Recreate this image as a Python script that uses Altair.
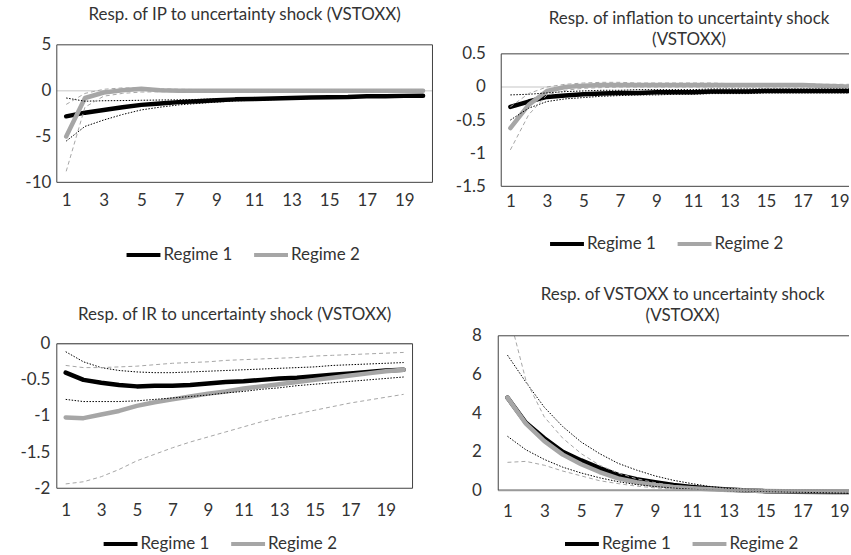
import altair as alt
import pandas as pd

FONT = "Lato"
FS = 17
TXT = "#333333"
BLACK = "#000000"
GRAY = "#a6a6a6"
FRAME = "#404040"
ZERO = "#d9d9d9"

horizon = list(range(1, 21))
x_ticks = list(range(1, 20, 2))
regimes = ["Regime 1", "Regime 2"]

# Industrial production
ip_r1 = [-2.8, -2.4, -2.1, -1.8, -1.55, -1.4, -1.25, -1.15, -1.05, -0.95,
         -0.9, -0.85, -0.8, -0.75, -0.72, -0.7, -0.62, -0.6, -0.57, -0.55]
ip_r1_hi = [-0.8, -1.15, -1.1, -1.08, -1.05, -1.02, -1.0, -0.95, -0.9, -0.85,
            -0.8, -0.76, -0.72, -0.68, -0.64, -0.6, -0.55, -0.52, -0.5, -0.48]
ip_r1_lo = [-5.5, -3.9, -3.2, -2.6, -2.1, -1.8, -1.55, -1.4, -1.25, -1.12,
            -1.05, -0.98, -0.92, -0.86, -0.82, -0.78, -0.72, -0.68, -0.65, -0.62]
ip_r2 = [-5.0, -0.8, -0.2, 0.05, 0.2, 0.05, 0.0, 0.0, 0.0, 0.0,
         0.0, 0.0, 0.0, 0.0, 0.0, 0.0, 0.0, 0.0, 0.0, 0.0]
ip_r2_hi = [-1.5, -0.3, 0.15, 0.3, 0.3, 0.2, 0.15, 0.12, 0.1, 0.1,
            0.1, 0.1, 0.1, 0.1, 0.1, 0.1, 0.1, 0.1, 0.1, 0.1]
ip_r2_lo = [-8.8, -1.8, -0.6, -0.3, -0.15, -0.12, -0.1, -0.1, -0.1, -0.1,
            -0.1, -0.1, -0.1, -0.1, -0.1, -0.1, -0.1, -0.1, -0.1, -0.1]

# Inflation
inf_r1 = [-0.30, -0.22, -0.15, -0.13, -0.11, -0.10, -0.09, -0.09, -0.08, -0.08,
          -0.08, -0.07, -0.07, -0.07, -0.06, -0.06, -0.06, -0.06, -0.06, -0.06]
inf_r1_hi = [-0.12, -0.11, -0.09, -0.07, -0.06, -0.05, -0.05, -0.04, -0.04, -0.04,
             -0.04, -0.03, -0.03, -0.03, -0.03, -0.03, -0.03, -0.03, -0.03, -0.03]
inf_r1_lo = [-0.5, -0.32, -0.22, -0.18, -0.16, -0.14, -0.13, -0.12, -0.12, -0.11,
             -0.11, -0.1, -0.1, -0.1, -0.09, -0.09, -0.09, -0.09, -0.09, -0.09]
inf_r2 = [-0.62, -0.27, -0.06, 0.0, 0.02, 0.03, 0.03, 0.03, 0.03, 0.03,
          0.03, 0.03, 0.03, 0.03, 0.03, 0.03, 0.03, 0.02, 0.01, 0.0]
inf_r2_hi = [-0.3, -0.1, 0.0, 0.04, 0.06, 0.07, 0.07, 0.06, 0.06, 0.06,
             0.06, 0.06, 0.05, 0.05, 0.05, 0.05, 0.05, 0.04, 0.04, 0.04]
inf_r2_lo = [-0.95, -0.42, -0.12, -0.05, -0.02, -0.01, 0.0, 0.0, 0.0, 0.0,
             0.0, 0.0, 0.0, 0.0, 0.0, 0.0, 0.0, 0.0, 0.0, 0.0]

# Interest rate
ir_r1 = [-0.40, -0.50, -0.54, -0.57, -0.59, -0.58, -0.58, -0.57, -0.55, -0.53,
         -0.52, -0.50, -0.48, -0.47, -0.45, -0.43, -0.41, -0.39, -0.37, -0.36]
ir_r1_hi = [-0.11, -0.25, -0.33, -0.37, -0.39, -0.40, -0.40, -0.39, -0.38, -0.37,
            -0.36, -0.35, -0.34, -0.33, -0.32, -0.30, -0.29, -0.28, -0.27, -0.26]
ir_r1_lo = [-0.77, -0.80, -0.80, -0.80, -0.79, -0.77, -0.75, -0.73, -0.71, -0.68,
            -0.66, -0.63, -0.61, -0.58, -0.56, -0.54, -0.52, -0.50, -0.48, -0.46]
ir_r2 = [-1.02, -1.03, -0.98, -0.93, -0.86, -0.81, -0.77, -0.73, -0.69, -0.66,
         -0.62, -0.59, -0.56, -0.53, -0.50, -0.47, -0.44, -0.41, -0.38, -0.36]
ir_r2_hi = [-0.30, -0.33, -0.33, -0.32, -0.31, -0.29, -0.27, -0.26, -0.25, -0.23,
            -0.22, -0.21, -0.20, -0.19, -0.17, -0.16, -0.15, -0.14, -0.13, -0.12]
ir_r2_lo = [-1.94, -1.91, -1.84, -1.74, -1.62, -1.53, -1.44, -1.36, -1.29, -1.22,
            -1.15, -1.08, -1.02, -0.97, -0.92, -0.87, -0.82, -0.78, -0.74, -0.70]

# VSTOXX
vs_r1 = [4.8, 3.5, 2.7, 2.0, 1.55, 1.15, 0.8, 0.58, 0.42, 0.28,
         0.18, 0.1, 0.04, -0.01, -0.04, -0.06, -0.08, -0.11, -0.13, -0.14]
vs_r1_hi = [7.0, 5.6, 4.3, 3.3, 2.5, 1.9, 1.4, 1.05, 0.75, 0.52,
            0.35, 0.2, 0.1, 0.05, 0.02, 0.01, 0.0, 0.0, -0.01, -0.02]
vs_r1_lo = [2.8, 2.1, 1.6, 1.2, 0.9, 0.65, 0.45, 0.3, 0.2, 0.12,
            0.06, 0.02, -0.02, -0.04, -0.06, -0.08, -0.1, -0.12, -0.14, -0.16]
vs_r2 = [4.8, 3.45, 2.55, 1.85, 1.35, 0.95, 0.62, 0.42, 0.28, 0.18,
         0.11, 0.06, 0.02, -0.01, -0.03, -0.04, -0.04, -0.04, -0.04, -0.04]
vs_r2_hi = [9.4, 5.7, 3.8, 2.7, 1.9, 1.3, 0.9, 0.6, 0.4, 0.25,
            0.15, 0.08, 0.03, 0.01, 0.0, 0.0, 0.0, 0.0, 0.0, 0.0]
vs_r2_lo = [1.45, 1.5, 1.3, 1.0, 0.75, 0.5, 0.35, 0.22, 0.13, 0.07,
            0.03, 0.01, 0.0, -0.01, -0.02, -0.02, -0.02, -0.02, -0.02, -0.02]


def panel(title, r1, r1_lo, r1_hi, r2, r2_lo, r2_hi, y_lo, y_hi, y_ticks,
          scale_lo, scale_hi, x_max, width, height, right_frame,
          y_extent, y_pad, x_pad, leg_x, leg_y, title_offset, title_dx,
          bottom_color=FRAME, bottom_width=1, clip=False):
    main = pd.DataFrame({"h": horizon * 2, "v": r1 + r2,
                         "regime": ["Regime 1"] * 20 + ["Regime 2"] * 20})
    band1 = pd.DataFrame({"h": horizon * 2, "v": r1_lo + r1_hi,
                          "bound": ["lo"] * 20 + ["hi"] * 20})
    band2 = pd.DataFrame({"h": horizon * 2, "v": r2_lo + r2_hi,
                          "bound": ["lo"] * 20 + ["hi"] * 20})
    frame = pd.DataFrame({"x0": [0.5], "x1": [x_max], "xr": [20.5],
                          "yb": [y_lo], "yt": [y_hi], "z": [0.0]})

    xs = alt.Scale(domain=[0.5, x_max], nice=False, zero=False)
    ys = alt.Scale(domain=[scale_lo, scale_hi], nice=False, zero=False)

    common = dict(labelFont=FONT, labelFontSize=FS, labelColor=TXT,
                  labelFlush=False, labelOverlap=False, domain=False,
                  ticks=False, grid=False, title=None,
                  labelExpr="'' + datum.value")
    x_axis = alt.Axis(values=x_ticks, labelPadding=x_pad, **common)
    y_axis = alt.Axis(values=y_ticks, labelPadding=y_pad,
                      minExtent=y_extent, maxExtent=y_extent, **common)

    def xe(field):
        return alt.X(field, scale=xs, axis=x_axis, title=None)

    def ye(field):
        return alt.Y(field, scale=ys, axis=y_axis, title=None)

    zero_line = alt.Chart(frame).mark_rule(color=ZERO, strokeWidth=1.5).encode(
        x=xe("x0:Q"), x2="x1:Q", y=ye("z:Q"))

    lines = alt.Chart(main).mark_line(strokeWidth=4.5, strokeCap="round",
                                      strokeJoin="round", clip=clip).encode(
        x=xe("h:Q"), y=ye("v:Q"),
        color=alt.Color("regime:N",
                        scale=alt.Scale(domain=regimes, range=[BLACK, GRAY]),
                        legend=alt.Legend(
                            title=None, orient="none", legendX=leg_x,
                            legendY=leg_y, direction="horizontal",
                            symbolType="stroke", symbolStrokeWidth=4,
                            symbolSize=1156, labelFont=FONT,
                            labelFontSize=FS, labelColor=TXT,
                            labelOffset=1, columnPadding=13, padding=0,
                            offset=0)))

    bands1 = alt.Chart(band1).mark_line(color=BLACK, strokeWidth=1,
                                        strokeDash=[1.5, 1.5], clip=clip).encode(
        x=xe("h:Q"), y=ye("v:Q"), detail="bound:N")
    bands2 = alt.Chart(band2).mark_line(color=GRAY, strokeWidth=1,
                                        strokeDash=[4, 3], clip=clip).encode(
        x=xe("h:Q"), y=ye("v:Q"), detail="bound:N")

    top = alt.Chart(frame).mark_rule(color=FRAME, strokeWidth=1).encode(
        x=xe("x0:Q"), x2="x1:Q", y=ye("yt:Q"))
    bottom = alt.Chart(frame).mark_rule(color=bottom_color,
                                        strokeWidth=bottom_width).encode(
        x=xe("x0:Q"), x2="x1:Q", y=ye("yb:Q"))
    left = alt.Chart(frame).mark_rule(color=FRAME, strokeWidth=1).encode(
        x=xe("x0:Q"), y=ye("yb:Q"), y2="yt:Q")
    layers = [zero_line, lines, bands1, bands2, top, bottom, left]
    if right_frame:
        right = alt.Chart(frame).mark_rule(color=FRAME, strokeWidth=1).encode(
            x=xe("xr:Q"), y=ye("yb:Q"), y2="yt:Q")
        layers.append(right)

    return alt.layer(*layers).properties(
        width=width, height=height,
        title=alt.Title(text=title, font=FONT, fontSize=FS,
                        fontWeight="normal", color=TXT, anchor="middle",
                        frame="group", offset=title_offset, dx=title_dx,
                        lineHeight=21))


p1 = panel("Resp. of IP to uncertainty shock (VSTOXX)",
           ip_r1, ip_r1_lo, ip_r1_hi, ip_r2, ip_r2_lo, ip_r2_hi,
           -10, 5, [5, 0, -5, -10], -10, 5, 20.5, 377, 138, True,
           51, 6, 10, 68, 192, 12, 0)

p2 = panel(["Resp. of inflation to uncertainty shock", "(VSTOXX)"],
           inf_r1, inf_r1_lo, inf_r1_hi, inf_r2, inf_r2_lo, inf_r2_hi,
           -1.5, 0.5, [0.5, 0, -0.5, -1, -1.5], -1.5, 0.5 + 9 / 66,
           0.5 + 349 / 18.33, 349, 142, False,
           46, 16, 7, 47, 181, -4, 14, clip=True)

p3 = panel("Resp. of IR to uncertainty shock (VSTOXX)",
           ir_r1, ir_r1_lo, ir_r1_hi, ir_r2, ir_r2_lo, ir_r2_hi,
           -2, 0, [0, -0.5, -1, -1.5, -2], -2, 8 / 72.5, 20.5, 357, 153, True,
           51, 7, 14, 45, 190, 11, 0)

p4 = panel(["Resp. of VSTOXX to uncertainty shock", "(VSTOXX)"],
           vs_r1, vs_r1_lo, vs_r1_hi, vs_r2, vs_r2_lo, vs_r2_hi,
           0, 8, [0, 2, 4, 6, 8], -0.2, 8, 0.5 + 352 / 18.5, 352, 159, False,
           30, 17, 9, 65, 190, 2, 9,
           bottom_color="#9a9a9a", bottom_width=2, clip=True)

row1 = alt.hconcat(p1, p2, spacing=20).resolve_scale(color="independent")
row2 = alt.hconcat(p3, p4, spacing=53).resolve_scale(color="independent")

chart = alt.vconcat(row1, row2, spacing=21).resolve_scale(
    color="independent"
).properties(
    padding={"left": 5, "top": 4, "right": 0, "bottom": 0},
    background="white"
).configure_view(stroke="transparent")

chart.save("out.html", embed_options={"renderer": "svg", "actions": False})
